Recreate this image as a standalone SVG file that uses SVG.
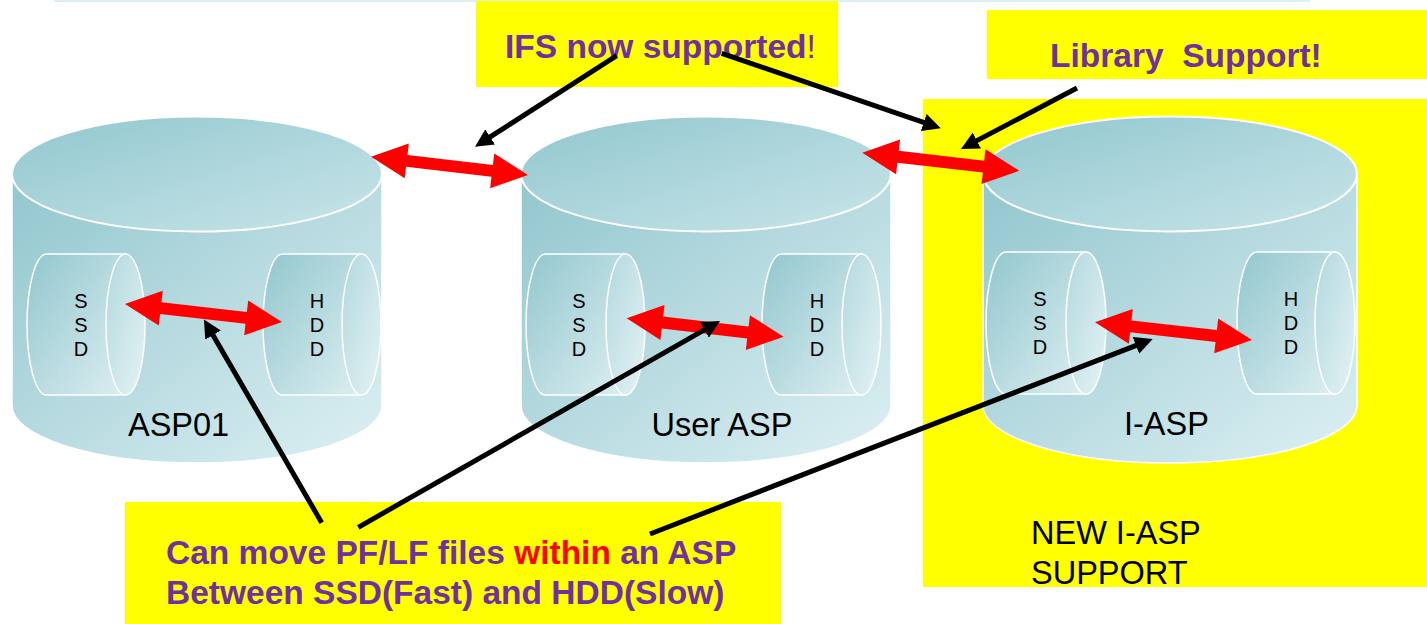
<svg xmlns="http://www.w3.org/2000/svg" xmlns:xlink="http://www.w3.org/1999/xlink" width="1427" height="624" viewBox="0 0 1427 624">
<style>
.box{fill:#FFFF00}
.body{fill:url(#gBody);stroke:#FFFFFF;stroke-width:1.5}
.top{fill:url(#gTop);stroke:#FFFFFF;stroke-width:2}
.ibody{fill:url(#gIn);stroke:#FFFFFF;stroke-width:1.5}
.iend{fill:url(#gEnd);stroke:#FFFFFF;stroke-width:1.5}
.red{fill:#FF0000}
.blk{fill:none;stroke:#000000;stroke-width:5;marker-end:url(#ah)}
.lbl{font-family:"Liberation Sans",Arial,sans-serif;font-size:32.5px;fill:#000000}
.sm{font-family:"Liberation Sans",Arial,sans-serif;font-size:20px;fill:#000000;text-anchor:middle}
.call{font-family:"Liberation Sans",Arial,sans-serif;font-size:33.5px;font-weight:bold;fill:#7030A0}
</style>
<defs>
<linearGradient id="gBody" x1="0" y1="0" x2="1" y2="1">
<stop offset="0" stop-color="#92C6CE"/>
<stop offset="1" stop-color="#DDF0F3"/>
</linearGradient>
<linearGradient id="gTop" x1="0" y1="0" x2="1" y2="1">
<stop offset="0" stop-color="#92C7CF"/>
<stop offset="1" stop-color="#C8E5E9"/>
</linearGradient>
<linearGradient id="gIn" x1="0" y1="0" x2="1" y2="1">
<stop offset="0" stop-color="#92C7CE"/>
<stop offset="1" stop-color="#DCEEF1"/>
</linearGradient>
<linearGradient id="gEnd" x1="0" y1="0" x2="1" y2="1">
<stop offset="0" stop-color="#B2D8DE"/>
<stop offset="1" stop-color="#E4F3F5"/>
</linearGradient>
<polygon id="dbl" points="0,0 36,-17.5 36,-6 122,-6 122,-17.5 158,0 122,17.5 122,6 36,6 36,17.5"/>
<marker id="ah" markerUnits="userSpaceOnUse" viewBox="0 0 18 18" markerWidth="18" markerHeight="18" refX="6" refY="9" orient="auto">
<path d="M0,0 L18,9 L0,18 Z" fill="#000000"/>
</marker>
</defs>

<rect x="0" y="0" width="1427" height="624" fill="#FFFFFF"/>
<rect x="54" y="0" width="1256" height="2" fill="#DDF0F4"/>

<g id="iasp-support-area">
<rect class="box" x="923" y="99" width="504" height="488"/>
<text class="lbl" x="1031" y="544">NEW I-ASP</text>
<text class="lbl" x="1031" y="584">SUPPORT</text>
</g>

<g id="ifs-note">
<rect class="box" x="476" y="1" width="362" height="86"/>
<text class="call" x="505" y="58">IFS now supported<tspan font-weight="normal">!</tspan></text>
</g>

<g id="library-note">
<rect class="box" x="987" y="10" width="440" height="69"/>
<text class="call" x="1050" y="66.5" xml:space="preserve">Library  Support!</text>
</g>

<g id="move-note">
<rect class="box" x="125" y="502" width="656" height="122"/>
<text class="call" x="166" y="564">Can move PF/LF files <tspan fill="#FF0000">within</tspan> an ASP</text>
<text class="call" x="166" y="604">Between SSD(Fast) and HDD(Slow)</text>
</g>

<g id="asp01">
<path class="body" d="M12,174 L12,405.5 A185,57.5 0 0 0 382,405.5 L382,174 Z"/>
<ellipse class="top" cx="197" cy="174" rx="185" ry="57.5"/>
<g id="asp01-ssd">
<path class="ibody" d="M46.5,254 L125.5,254 L125.5,395 L46.5,395 A19.5,70.5 0 0 1 46.5,254 Z"/>
<ellipse class="iend" cx="125.5" cy="324.5" rx="19.5" ry="70.5"/>
<text class="sm" x="81" y="308">S</text><text class="sm" x="81" y="332">S</text><text class="sm" x="81" y="356">D</text>
</g>
<g id="asp01-hdd">
<path class="ibody" d="M282.5,254 L361.5,254 L361.5,395 L282.5,395 A19.5,70.5 0 0 1 282.5,254 Z"/>
<ellipse class="iend" cx="361.5" cy="324.5" rx="19.5" ry="70.5"/>
<text class="sm" x="317" y="308">H</text><text class="sm" x="317" y="332">D</text><text class="sm" x="317" y="356">D</text>
</g>
<text class="lbl" x="128" y="436">ASP01</text>
</g>

<g id="user-asp">
<path class="body" d="M521,174 L521,405.5 A185,57.5 0 0 0 891,405.5 L891,174 Z"/>
<ellipse class="top" cx="706" cy="174" rx="185" ry="57.5"/>
<g id="user-ssd">
<path class="ibody" d="M545.5,254 L625.5,254 L625.5,395 L545.5,395 A19.5,70.5 0 0 1 545.5,254 Z"/>
<ellipse class="iend" cx="625.5" cy="324.5" rx="19.5" ry="70.5"/>
<text class="sm" x="579" y="308">S</text><text class="sm" x="579" y="332">S</text><text class="sm" x="579" y="356">D</text>
</g>
<g id="user-hdd">
<path class="ibody" d="M781.5,254 L861.5,254 L861.5,395 L781.5,395 A19.5,70.5 0 0 1 781.5,254 Z"/>
<ellipse class="iend" cx="861.5" cy="324.5" rx="19.5" ry="70.5"/>
<text class="sm" x="817" y="308">H</text><text class="sm" x="817" y="332">D</text><text class="sm" x="817" y="356">D</text>
</g>
<text class="lbl" x="651.5" y="436">User ASP</text>
</g>

<g id="i-asp">
<path class="body" d="M983,174 L983,405.5 A187,57.5 0 0 0 1357,405.5 L1357,174 Z"/>
<ellipse class="top" cx="1170" cy="174" rx="187" ry="57.5"/>
<g id="iasp-ssd">
<path class="ibody" d="M1006,252 L1086,252 L1086,394 L1006,394 A20,71 0 0 1 1006,252 Z"/>
<ellipse class="iend" cx="1086" cy="323" rx="20" ry="71"/>
<text class="sm" x="1040" y="306">S</text><text class="sm" x="1040" y="330">S</text><text class="sm" x="1040" y="354">D</text>
</g>
<g id="iasp-hdd">
<path class="ibody" d="M1257,252 L1335,252 L1335,394 L1257,394 A20,71 0 0 1 1257,252 Z"/>
<ellipse class="iend" cx="1335" cy="323" rx="20" ry="71"/>
<text class="sm" x="1291" y="306">H</text><text class="sm" x="1291" y="330">D</text><text class="sm" x="1291" y="354">D</text>
</g>
<text class="lbl" x="1124" y="435">I-ASP</text>
</g>

<g id="connectors">
<use xlink:href="#dbl" href="#dbl" class="red" transform="translate(371,156.7) rotate(6.68)"/>
<use xlink:href="#dbl" href="#dbl" class="red" transform="translate(862.3,152.7) rotate(6.54)"/>
<use xlink:href="#dbl" href="#dbl" class="red" transform="translate(125,304) rotate(6.54)"/>
<use xlink:href="#dbl" href="#dbl" class="red" transform="translate(626.7,318.3) rotate(6.7)"/>
<use xlink:href="#dbl" href="#dbl" class="red" transform="translate(1095,322.3) rotate(6.44)"/>
<line class="blk" x1="616.7" y1="55.7" x2="485.1" y2="140.2"/>
<line class="blk" x1="721.7" y1="53.3" x2="929.4" y2="124.4"/>
<line class="blk" x1="1077" y1="88" x2="971.6" y2="143.4"/>
<line class="blk" x1="321.7" y1="522.7" x2="210" y2="329.9"/>
<line class="blk" x1="358.3" y1="527.3" x2="709.6" y2="326.9"/>
<line class="blk" x1="650" y1="534" x2="1141.5" y2="343.3"/>
</g>
</svg>
